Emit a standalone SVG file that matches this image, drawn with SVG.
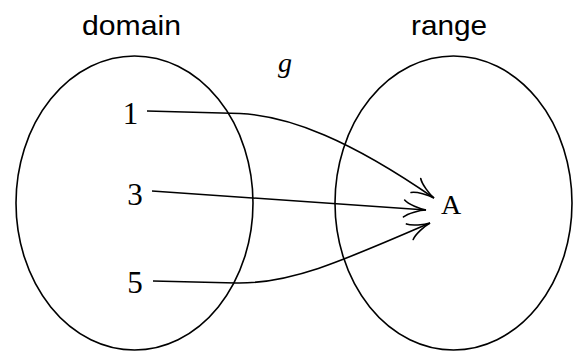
<svg xmlns="http://www.w3.org/2000/svg" width="574" height="351" viewBox="0 0 574 351">
<style>
.set{fill:none;stroke:#000;stroke-width:1.6}
.edge{fill:none;stroke:#000;stroke-width:1.6;marker-end:url(#to)}
.lbl{font-family:"Liberation Sans",Arial,sans-serif;font-size:28px;fill:#000}
.num{font-family:"Liberation Serif","Times New Roman",serif;font-size:31px;fill:#000;text-anchor:middle}
.it{font-family:"Liberation Serif","Times New Roman",serif;font-style:italic;font-size:28px;fill:#000}
</style>
<defs>
<marker id="to" markerUnits="userSpaceOnUse" viewBox="-26 -11 28 22" refX="0" refY="0" markerWidth="28" markerHeight="22" orient="auto" overflow="visible">
<path d="M-22,-8.5 C-18,-4.5 -6,-0.6 0,0 C-6,0.6 -18,4.5 -22,8.5" fill="none" stroke="#000" stroke-width="1.6" stroke-linecap="round"/>
</marker>
</defs>
<text class="lbl" x="82" y="35" textLength="99" lengthAdjust="spacingAndGlyphs">domain</text>
<text class="lbl" x="411" y="35" textLength="76" lengthAdjust="spacingAndGlyphs">range</text>
<text class="it" x="278" y="72">g</text>
<g id="domain">
<ellipse class="set" cx="134.5" cy="203" rx="118.5" ry="147"/>
<text class="num" x="130.5" y="124">1</text>
<text class="num" x="135" y="205">3</text>
<text class="num" x="135" y="293">5</text>
</g>
<g id="range">
<ellipse class="set" cx="453.5" cy="203" rx="118.5" ry="147"/>
<text class="num" x="451" y="214" style="font-size:28px">A</text>
</g>
<g id="connectors">
<path class="edge" d="M147,111 L240,113.5 C290,116 350,140 434,198"/>
<path class="edge" d="M152,191 L426,210"/>
<path class="edge" d="M153,281 L236,283 C290,284 340,262 430,223"/>
</g>
</svg>
